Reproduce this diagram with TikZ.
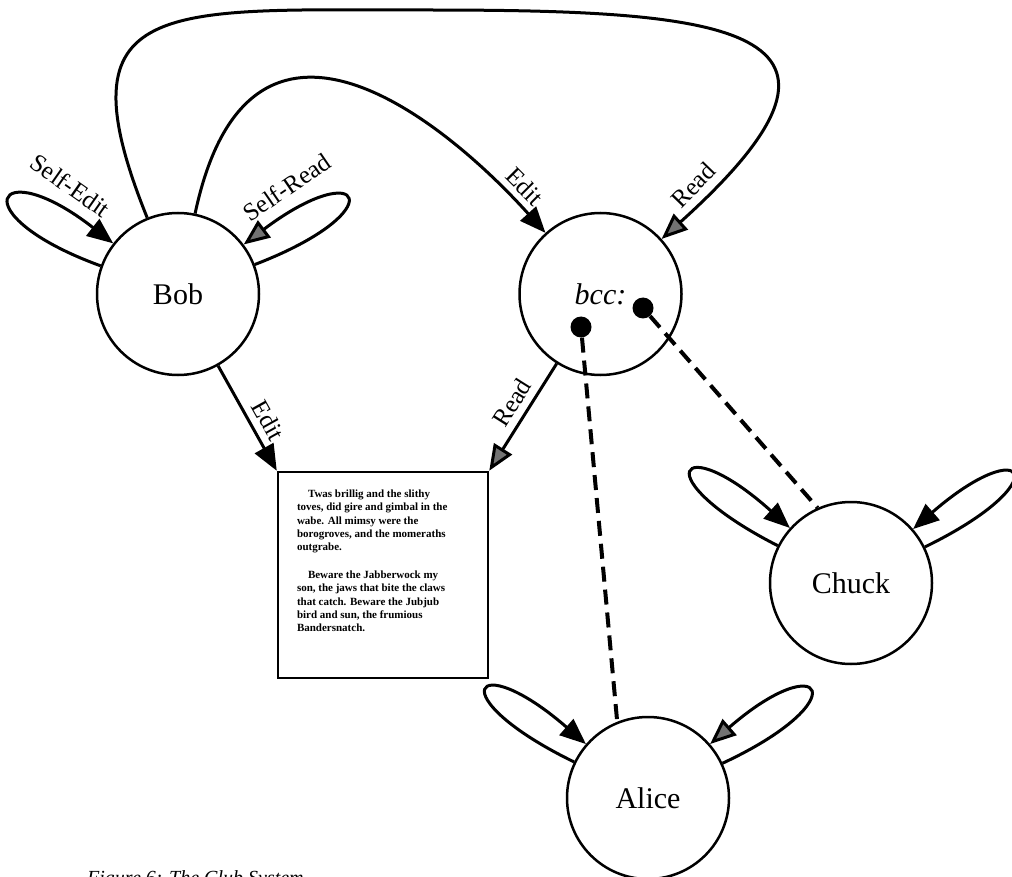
\documentclass[tikz,border=0pt]{standalone}
\usepackage{fontspec}
\setmainfont{Liberation Serif}
\usetikzlibrary{arrows.meta,positioning}

\begin{document}
\begin{tikzpicture}[x=1pt,y=-1pt,>={Triangle[length=26pt,width=21pt]},
  person/.style={circle, draw, line width=2.5pt, minimum size=162pt, inner sep=0pt, font=\fontsize{30}{36}\selectfont},
  poembox/.style={rectangle, draw, line width=2.5pt, minimum width=210pt, minimum height=206pt, inner sep=4pt, font=\bfseries\fontsize{11}{13.2}\selectfont},
  editarrow/.style={->, line width=3pt},
  readarrow/.style={-{Triangle[length=26pt,width=21pt,fill=black!55]}, line width=3pt},
  lbl/.style={sloped, above=7pt, inner sep=0pt, font=\fontsize{25}{30}\selectfont},
  member/.style={line width=4pt, dash pattern=on 15pt off 8pt},
  dot/.style={circle, fill, minimum size=21pt, inner sep=0pt}]
    \useasboundingbox (0,0) rectangle (1012,877);
    \node [person] (Bob) at (178,294) {Bob};
    \node [person, right=258pt of Bob, font=\itshape\fontsize{30}{36}\selectfont] (bcc) {bcc:};
    \node [person] (Chuck) at (851,583) {Chuck};
    \node [person] (Alice) at (648,798) {Alice};
    \node [poembox] (poem) at (383,575) {\parbox[c][170pt][t]{172pt}{\raggedright
      \hspace*{11pt}Twas brillig and the slithy\\
      toves, did gire and gimbal in the\\
      wabe. All mimsy were the\\
      borogroves, and the momeraths\\
      outgrabe.\par\vspace{15pt}
      \hspace*{11pt}Beware the Jabberwock my\\
      son, the jaws that bite the claws\\
      that catch. Beware the Jubjub\\
      bird and sun, the frumious\\
      Bandersnatch.}};
    \node [dot] (bcc1) at (581,327) {};
    \node [dot] (bcc2) at (643,308) {};
    \coordinate (arctop) at (425,10);
    \node [anchor=base west, inner sep=0pt, font=\itshape\fontsize{20}{24}\selectfont] (caption) at (87,884) {Figure 6: The Club System};
    % rights of Bob
    \path[editarrow] (Bob) edge[out=160, in=142, out distance=150pt, in distance=150pt] node[lbl, pos=.82, above=15pt, rotate=-9] {Self-Edit} (Bob);
    \path[readarrow] (Bob) edge[out=21, in=37, out distance=150pt, in distance=150pt] node[lbl, pos=.82, above=15pt, rotate=8] {Self-Read} (Bob);
    \path[editarrow] (Bob) edge[out=78, in=132, out distance=260pt, in distance=150pt] node[lbl, pos=.9] {Edit} (bcc);
    \draw[readarrow] (Bob) to[out=112, in=180, out distance=240pt, in distance=260pt] (arctop)
      to[out=0, in=42, out distance=300pt, in distance=320pt] node[lbl, pos=.93] {Read} (bcc);
    \path[editarrow] (Bob) edge node[lbl, pos=.6] {Edit} (poem.north west);
    \path[readarrow] (bcc) edge node[lbl, pos=.45] {Read} (poem.north east);
    % members of bcc
    \draw[member] (bcc1) -- (Alice.112);
    \draw[member] (bcc2) -- (Chuck.114);
    % rights of Chuck and Alice
    \path[editarrow] (Chuck) edge[out=153, in=138, out distance=150pt, in distance=150pt] (Chuck);
    \path[editarrow] (Chuck) edge[out=26, in=41, out distance=150pt, in distance=150pt] (Chuck);
    \path[editarrow] (Alice) edge[out=154, in=139, out distance=150pt, in distance=150pt] (Alice);
    \path[readarrow] (Alice) edge[out=25, in=41, out distance=150pt, in distance=150pt] (Alice);
\end{tikzpicture}
\end{document}
